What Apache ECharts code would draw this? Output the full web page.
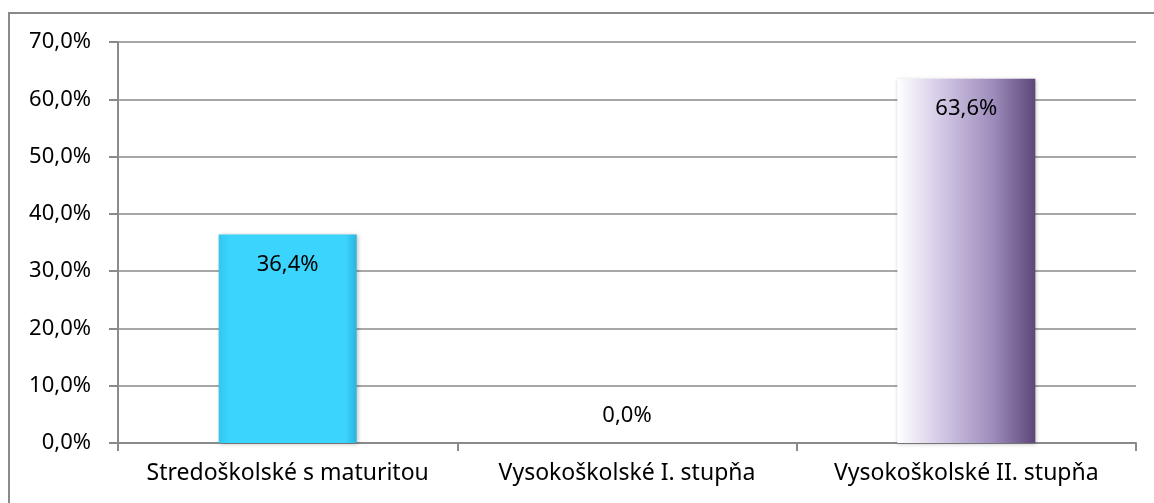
<!DOCTYPE html>
<html>
<head>
<meta charset="utf-8">
<script src="https://cdn.jsdelivr.net/npm/echarts@6/dist/echarts.min.js"></script>
<style>
  html, body { margin: 0; padding: 0; background: #fff; }
  #chart { width: 1154px; height: 503px; }
</style>
</head>
<body>
<div id="chart"></div>
<script>
// údaje z grafu
const categories = ['Stredoškolské s maturitou', 'Vysokoškolské I. stupňa', 'Vysokoškolské II. stupňa'];
const values = [36.4, 0.0, 63.6];
const yTicks = [0, 10, 20, 30, 40, 50, 60, 70];

const font = 'Noto Sans';
const fmt = v => v.toFixed(1).replace('.', ',') + '%';

// farby stĺpcov
const barColors = [
    {
        type: 'linear', x: 0, y: 0, x2: 1, y2: 0,
        colorStops: [
            {offset: 0, color: '#35c6ee'},
            {offset: 0.08, color: '#3bd4fd'},
            {offset: 0.92, color: '#3bd4fd'},
            {offset: 1, color: '#2ab4dc'}
        ]
    },
    '#3bd4fd',
    {
        type: 'linear', x: 0, y: 0, x2: 1, y2: 0,
        colorStops: [
            {offset: 0, color: '#ffffff'},
            {offset: 0.35, color: '#cfc3e2'},
            {offset: 0.7, color: '#9c8bbb'},
            {offset: 1, color: '#5c4778'}
        ]
    }
];

const chart = echarts.init(document.getElementById('chart'));
chart.setOption({
    animation: false,
    textStyle: {fontFamily: font},
    grid: {left: 118, right: 18, top: 42, bottom: 60},
    //rámik okolo grafu
    graphic: [{
        type: 'rect',
        shape: {x: 9, y: 13, width: 1200, height: 560},
        style: {fill: 'none', stroke: '#8a8a8a', lineWidth: 2},
        silent: true
    }],
    xAxis: {
        type: 'category',
        data: categories,
        axisLine: {show: true, lineStyle: {color: '#8a8a8a', width: 2}},
        axisTick: {show: true, interval: 0, length: 8, lineStyle: {color: '#8a8a8a', width: 2}},
        axisLabel: {color: '#000', fontSize: 23, fontFamily: font, margin: 19, interval: 0, hideOverlap: false}
    },
    yAxis: {
        type: 'value',
        min: yTicks[0],
        max: yTicks[yTicks.length - 1],
        interval: yTicks[1] - yTicks[0],
        axisLine: {show: true, lineStyle: {color: '#8a8a8a', width: 2}},
        axisTick: {show: true, length: 9, lineStyle: {color: '#8a8a8a', width: 2}},
        axisLabel: {color: '#000', fontSize: 22, fontFamily: font, margin: 27, formatter: v => fmt(v)},
        splitLine: {show: true, lineStyle: {color: '#8a8a8a', width: 1.5}}
    },
    series: [{
        type: 'bar',
        barWidth: 138,
        data: values.map((v, i) => ({
            value: v,
            itemStyle: {
                color: barColors[i],
                shadowColor: 'rgba(0,0,0,0.25)',
                shadowBlur: 4,
                shadowOffsetX: 1,
                shadowOffsetY: 1
            },
            label: v === 0 ? {position: 'top', distance: 16} : {}
        })),
        label: {
            show: true,
            position: 'insideTop',
            distance: 19,
            color: '#000',
            fontSize: 22,
            fontFamily: font,
            formatter: p => fmt(p.value)
        }
    }]
});
</script>
</body>
</html>
